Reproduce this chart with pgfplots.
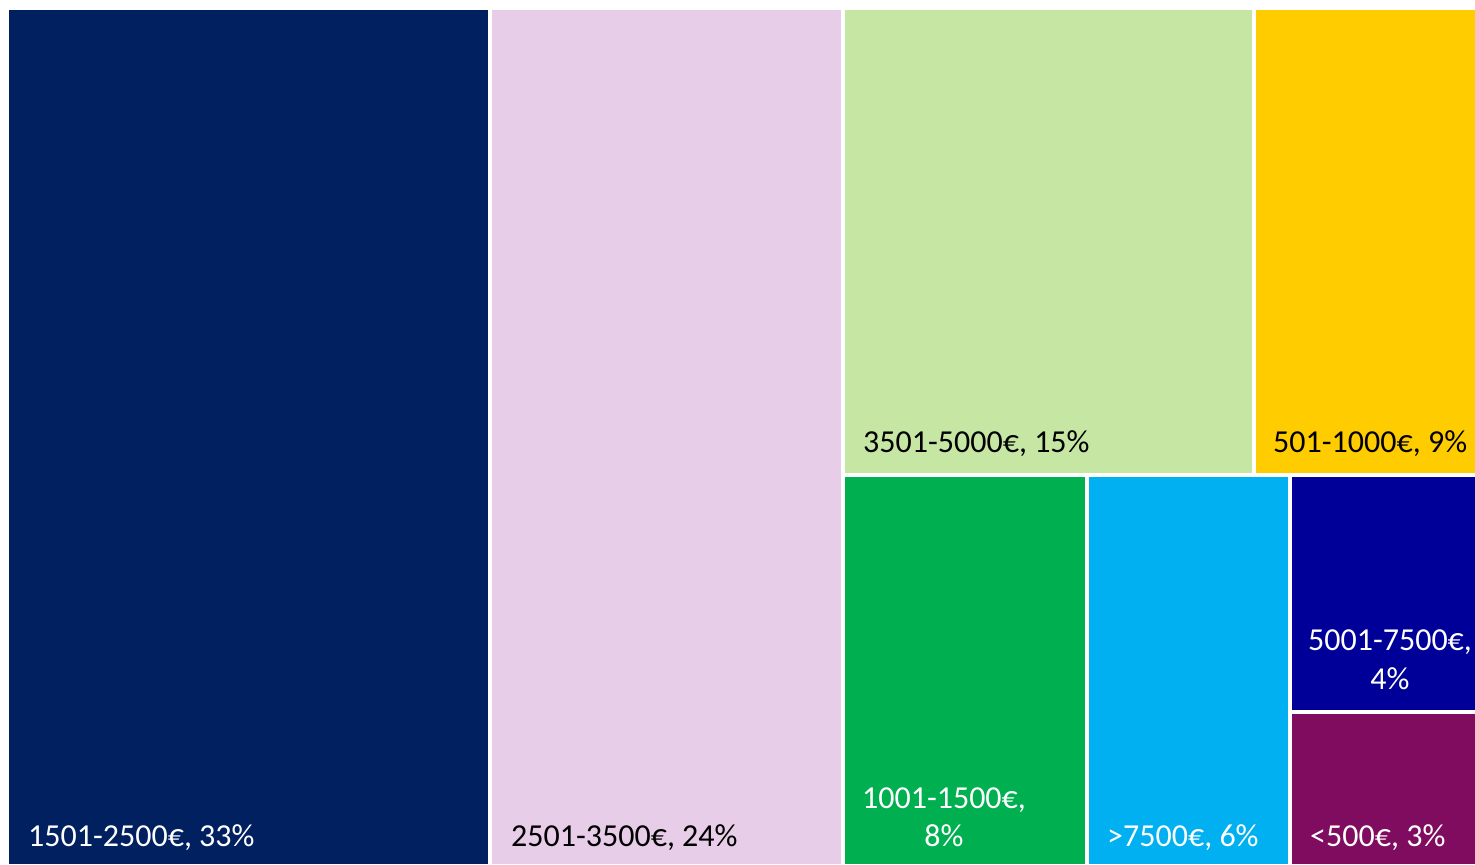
\documentclass[border=0pt]{standalone}
\usepackage{pgfplots}
\pgfplotsset{compat=1.18}
\usepackage{fontspec}
\setmainfont{Carlito}
\definecolor{cnavy}{RGB}{0,32,96}
\definecolor{cpink}{RGB}{231,205,232}
\definecolor{clgreen}{RGB}{198,230,164}
\definecolor{cyellow}{RGB}{255,204,0}
\definecolor{cgreen}{RGB}{0,176,80}
\definecolor{clblue}{RGB}{0,176,240}
\definecolor{cdblue}{RGB}{0,0,153}
\definecolor{cpurple}{RGB}{128,12,96}
\tikzset{lab/.style={font=\fontsize{32bp}{38bp}\selectfont, inner sep=0pt}}
\begin{document}
\begin{tikzpicture}
\begin{axis}[
  width=1475bp, height=864bp, scale only axis,
  xmin=0, xmax=1475, ymin=0, ymax=864,
  hide axis, clip=false,
]
\path (rel axis cs:0,0) rectangle (rel axis cs:1,1);
% y values = 864 - pixel y
\addplot[fill=cnavy, draw=none] coordinates {(9,0) (488,0) (488,854) (9,854)} -- cycle;
\addplot[fill=cpink, draw=none] coordinates {(492,0) (841,0) (841,854) (492,854)} -- cycle;
\addplot[fill=clgreen, draw=none] coordinates {(845,391) (1252,391) (1252,854) (845,854)} -- cycle;
\addplot[fill=cyellow, draw=none] coordinates {(1256,391) (1475,391) (1475,854) (1256,854)} -- cycle;
\addplot[fill=cgreen, draw=none] coordinates {(845,0) (1085,0) (1085,387) (845,387)} -- cycle;
\addplot[fill=clblue, draw=none] coordinates {(1089,0) (1288,0) (1288,387) (1089,387)} -- cycle;
\addplot[fill=cdblue, draw=none] coordinates {(1292,154) (1475,154) (1475,387) (1292,387)} -- cycle;
\addplot[fill=cpurple, draw=none] coordinates {(1292,0) (1475,0) (1475,150) (1292,150)} -- cycle;

\node[lab, anchor=base west, text=white] at (axis cs:28,18) {1501-2500€, 33\%};
\node[lab, anchor=base west, text=black] at (axis cs:511,18) {2501-3500€, 24\%};
\node[lab, anchor=base west, text=black] at (axis cs:863,411) {3501-5000€, 15\%};
\node[lab, anchor=base west, text=black] at (axis cs:1273,411) {501-1000€, 9\%};
\node[lab, anchor=base, text=white] at (axis cs:944,56) {1001-1500€,};
\node[lab, anchor=base, text=white] at (axis cs:944,18) {8\%};
\node[lab, anchor=base west, text=white] at (axis cs:1107,18) {>7500€, 6\%};
\node[lab, anchor=base, text=white] at (axis cs:1390,214) {5001-7500€,};
\node[lab, anchor=base, text=white] at (axis cs:1390,175) {4\%};
\node[lab, anchor=base west, text=white] at (axis cs:1310,18) {<500€, 3\%};
\end{axis}
\end{tikzpicture}
\end{document}
